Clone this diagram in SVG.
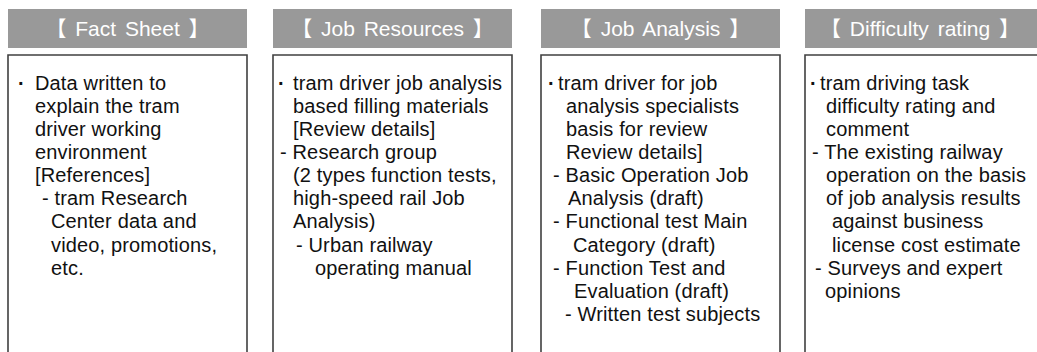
<svg xmlns="http://www.w3.org/2000/svg" width="1037" height="352" viewBox="0 0 1037 352">
<style>
.hd{fill:#999999}
.ht{fill:#ffffff;font-family:"Liberation Sans","Noto Sans CJK KR",sans-serif;font-size:21px;text-anchor:middle;word-spacing:3px}
.bx{fill:#ffffff;stroke:#404040;stroke-width:1.6}
.t{fill:#111111;font-family:"Liberation Sans",Arial,sans-serif;font-size:20px;letter-spacing:0.15px}
.b{font-weight:bold}
</style>
<rect width="1037" height="352" fill="#ffffff"/>
<g id="fact-sheet">
<rect class="hd" x="8" y="9" width="239" height="39"/>
<text class="ht" x="127.5" y="36">【 Fact Sheet 】</text>
<path class="bx" d="M8,360 V55 H247 V360"/>
<text class="t"><tspan class="b" x="18" y="90">·</tspan><tspan x="35" y="90">Data written to</tspan><tspan x="35" y="113">explain the tram</tspan><tspan x="35" y="136">driver working</tspan><tspan x="35" y="159">environment</tspan><tspan x="35" y="182">[References]</tspan><tspan x="42" y="205">- tram Research</tspan><tspan x="51" y="228">Center data and</tspan><tspan x="51" y="252">video, promotions,</tspan><tspan x="51" y="275">etc.</tspan></text>
</g>
<g id="job-resources">
<rect class="hd" x="273" y="9" width="239" height="39"/>
<text class="ht" x="392.5" y="36">【 Job Resources 】</text>
<path class="bx" d="M273,360 V55 H512 V360"/>
<text class="t"><tspan class="b" x="278" y="90">·</tspan><tspan x="293" y="90">tram driver job analysis</tspan><tspan x="293" y="113">based filling materials</tspan><tspan x="293" y="136">[Review details]</tspan><tspan x="280" y="159">- Research group</tspan><tspan x="293" y="182">(2 types function tests,</tspan><tspan x="293" y="205">high-speed rail Job</tspan><tspan x="293" y="228">Analysis)</tspan><tspan x="296" y="252">- Urban railway</tspan><tspan x="315" y="275">operating manual</tspan></text>
</g>
<g id="job-analysis">
<rect class="hd" x="541" y="9" width="239" height="39"/>
<text class="ht" x="660.5" y="36">【 Job Analysis 】</text>
<path class="bx" d="M541,360 V55 H780 V360"/>
<text class="t"><tspan class="b" x="548" y="90">·</tspan><tspan x="558" y="90">tram driver for job</tspan><tspan x="566" y="113">analysis specialists</tspan><tspan x="566" y="136">basis for review</tspan><tspan x="566" y="159">Review details]</tspan><tspan x="553" y="182">- Basic Operation Job</tspan><tspan x="568" y="205">Analysis (draft)</tspan><tspan x="553" y="228">- Functional test Main</tspan><tspan x="573" y="252">Category (draft)</tspan><tspan x="553" y="275">- Function Test and</tspan><tspan x="574" y="298">Evaluation (draft)</tspan><tspan x="565" y="321">- Written test subjects</tspan></text>
</g>
<g id="difficulty-rating">
<rect class="hd" x="805" y="9" width="240" height="39"/>
<text class="ht" x="920" y="36">【 Difficulty rating 】</text>
<path class="bx" d="M805,360 V55 H1045"/>
<text class="t"><tspan class="b" x="810" y="90">·</tspan><tspan x="820" y="90">tram driving task</tspan><tspan x="826" y="113">difficulty rating and</tspan><tspan x="826" y="136">comment</tspan><tspan x="812" y="159">- The existing railway</tspan><tspan x="826" y="182">operation on the basis</tspan><tspan x="826" y="205">of job analysis results</tspan><tspan x="832" y="228">against business</tspan><tspan x="832" y="252">license cost estimate</tspan><tspan x="815" y="275">- Surveys and expert</tspan><tspan x="825" y="298">opinions</tspan></text>
</g>
<g id="connectors"/>
</svg>
